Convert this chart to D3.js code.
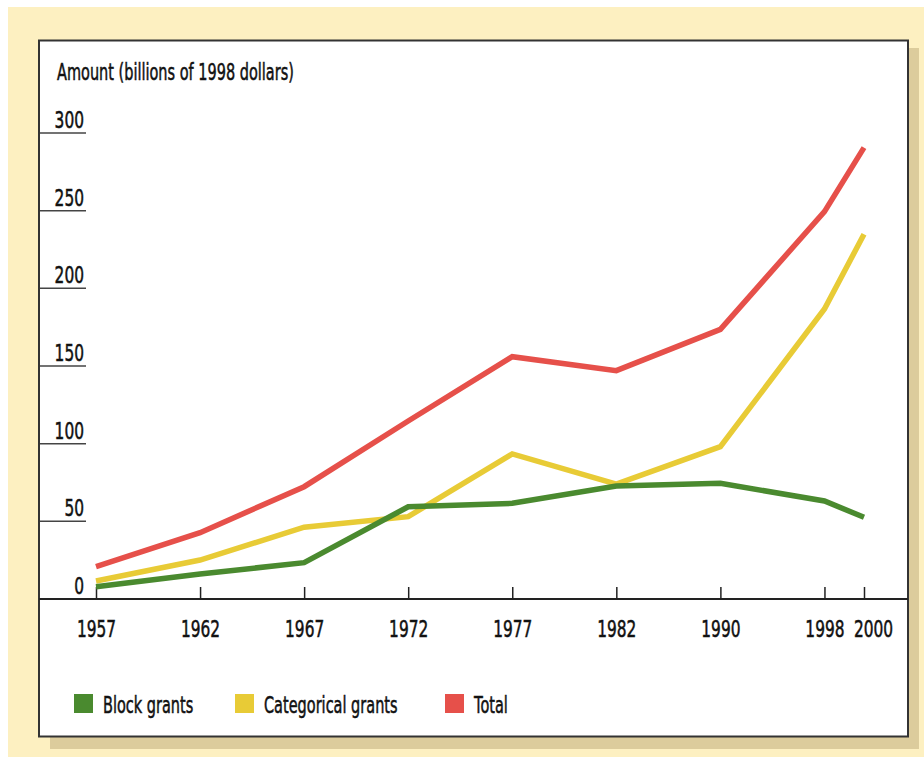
<!DOCTYPE html>
<html>
<head>
<meta charset="utf-8">
<script src="https://cdn.jsdelivr.net/npm/d3@7"></script>
<style>
  html, body { margin: 0; padding: 0; background: #ffffff; }
  svg { display: block; }
  text { font-family: "DejaVu Sans", sans-serif; fill: #111; stroke: #111; stroke-width: 0.55; }
</style>
</head>
<body>
<svg id="chart" width="924" height="757"></svg>
<script>
// Federal grants to state and local governments, billions of 1998 dollars
const years = [1957, 1962, 1967, 1972, 1977, 1982, 1990, 1998, 2000];
const blockGrants = [7.9, 16.1, 23.4, 59.4, 61.6, 72.8, 74.5, 63.1, 52.6];
const categoricalGrants = [11.6, 25.1, 46.2, 53.0, 93.4, 74.0, 98.1, 186.7, 234.8];
const totalGrants = [20.8, 42.7, 72.3, 114.6, 156.0, 147.0, 173.6, 249.4, 290.6];
const yTicks = [0, 50, 100, 150, 200, 250, 300];
const seriesNames = ["Block grants", "Categorical grants", "Total"];
const seriesColors = ["#4a8a2f", "#e8cb36", "#e6504a"];

const svg = d3.select("#chart");
// squeeze the sans face into a condensed look (digits a little less than words)
const CONDENSE_WORDS = 0.63;
const CONDENSE_DIGITS = 0.67;
const FONT = 23;

// page backdrop, drop shadow and framed panel
svg.append("rect").attr("x", 8).attr("y", 7).attr("width", 916).attr("height", 750).attr("fill", "#fdf0c1");
svg.append("rect").attr("x", 50).attr("y", 48).attr("width", 869).attr("height", 701).attr("fill", "#dccc9c");
svg.append("rect").attr("x", 39).attr("y", 40.5).attr("width", 869).attr("height", 696)
  .attr("fill", "#ffffff").attr("stroke", "#333").attr("stroke-width", 2);

// x positions: five-year steps through 1982, then wider spacing
const x0 = 96, x1 = 864;
const unit = (x1 - x0) / 7.38;
const x = d3.scaleLinear()
  .domain([1957, 1982, 1998, 2000])
  .range([x0, x0 + 5 * unit, x0 + 7 * unit, x1]);
const y = d3.scaleLinear().domain([0, 300]).range([599, 133]);

// y-axis ticks: short rules under each label
const yAxis = svg.append("g");
yAxis.selectAll("line").data(yTicks.filter(d => d > 0)).join("line")
  .attr("x1", 40).attr("x2", 86)
  .attr("y1", d => y(d)).attr("y2", d => y(d))
  .attr("stroke", "#444").attr("stroke-width", 1.5);
yAxis.selectAll("text").data(yTicks).join("text")
  .attr("x", 84).attr("y", d => y(d) - 5)
  .attr("text-anchor", "end").attr("font-size", FONT)
  .text(d => d);

svg.append("text").attr("x", 57).attr("y", 80).attr("font-size", FONT)
  .text("Amount (billions of 1998 dollars)");

// x-axis
const xAxis = d3.axisBottom(x).tickValues(years).tickFormat(d3.format("d"))
  .tickSizeInner(-12).tickSizeOuter(0).tickPadding(22);
const gx = svg.append("g").attr("transform", "translate(0,599)").call(xAxis);
gx.select(".domain").remove();
gx.selectAll(".tick line").attr("stroke", "#222").attr("stroke-width", 1.5);
gx.selectAll(".tick text").attr("font-size", FONT).attr("font-family", null).attr("fill", "#111")
  .attr("data-shift", d => d === 2000 ? 9 : 0);   // nudge the crowded last label right
svg.append("line").attr("x1", 39).attr("x2", 908).attr("y1", 599).attr("y2", 599)
  .attr("stroke", "#222").attr("stroke-width", 2);

// series lines
const line = d3.line().x((d, i) => x(years[i])).y(d => y(d));
const series = [categoricalGrants, blockGrants, totalGrants];
const seriesIdx = [1, 0, 2];
svg.append("g").selectAll("path").data(series).join("path")
  .attr("d", d => line(d))
  .attr("fill", "none")
  .attr("stroke", (d, i) => seriesColors[seriesIdx[i]])
  .attr("stroke-width", 5.5)
  .attr("stroke-linejoin", "miter");

// legend
const legendX = [74, 235, 445];
const lg = svg.append("g").selectAll("g").data(seriesNames).join("g")
  .attr("transform", (d, i) => `translate(${legendX[i]},694)`);
lg.append("rect").attr("width", 19).attr("height", 19).attr("fill", (d, i) => seriesColors[i]);
lg.append("text").attr("x", 29).attr("y", 19).attr("font-size", FONT).text(d => d);

// condense all labels horizontally about their anchor point
svg.selectAll("text").each(function () {
  const el = d3.select(this);
  const k = /^\d+$/.test(this.textContent) ? CONDENSE_DIGITS : CONDENSE_WORDS;
  const X = +el.attr("x") || 0;
  const shift = +el.attr("data-shift") || 0;
  el.attr("transform", `translate(${X + shift},0) scale(${k},1) translate(${-X},0)`);
});
</script>
</body>
</html>
